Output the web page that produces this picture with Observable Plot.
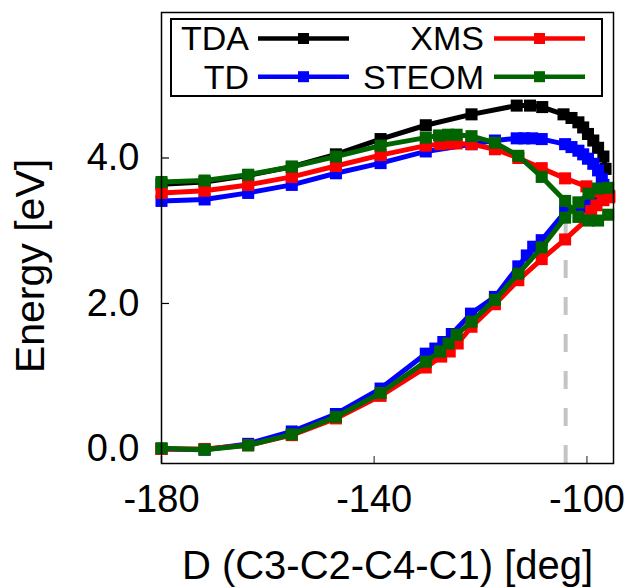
<!DOCTYPE html>
<html>
<head>
<meta charset="utf-8">
<script src="https://cdn.jsdelivr.net/npm/d3@7"></script>
<script src="https://cdn.jsdelivr.net/npm/@observablehq/plot@0.6"></script>
<style>
  body { margin: 0; background: #ffffff; }
  #wrap { position: relative; width: 627px; height: 587px; }
  #legend { position: absolute; left: 0; top: 0; pointer-events: none; }
</style>
</head>
<body>
<div id="wrap"></div>
<script>
// ---------- data ----------
const seriesNames  = ["TDA", "TD", "XMS", "STEOM"];
const seriesColors = ["#000000", "#0000ff", "#ff0000", "#006400"];

// TDA (black) – only the upper state is visible
const tdaUpperX = [-180, -171.9, -163.7, -155.5, -147.2, -138.8, -130.3, -121.7, -113.2, -110.7, -108.4, -104.4, -102.9, -101.6, -100.7, -99.8, -98.8, -97.9, -96.9, -96.5];
const tdaUpperY = [3.64, 3.67, 3.76, 3.88, 4.05, 4.26, 4.45, 4.60, 4.72, 4.72, 4.70, 4.60, 4.55, 4.49, 4.42, 4.33, 4.24, 4.14, 4.02, 3.85];

// TD (blue)
const tdUpperX = [-180, -171.9, -163.7, -155.5, -147.2, -138.8, -130.3, -121.7, -117.3, -113.2, -111.8, -110.3, -108.5, -104.1, -102.9, -101.6, -100.7, -99.8, -98.8, -97.9, -97.2, -96.9];
const tdUpperY = [3.41, 3.43, 3.52, 3.63, 3.79, 3.93, 4.09, 4.19, 4.24, 4.27, 4.27, 4.27, 4.26, 4.19, 4.15, 4.10, 4.05, 3.99, 3.92, 3.83, 3.71, 3.63];
const tdLowerX = [-180, -171.9, -163.7, -155.5, -147.2, -138.8, -130.3, -128.5, -127.0, -125.4, -121.8, -117.3, -112.9, -111.3, -110.1, -108.5, -104.1, -101.3, -99.4, -98.2, -97.2];
const tdLowerY = [0.00, -0.01, 0.07, 0.24, 0.48, 0.83, 1.31, 1.38, 1.47, 1.58, 1.86, 2.09, 2.51, 2.66, 2.78, 2.87, 3.26, 3.32, 3.42, 3.49, 3.55];

// XMS (red)
const xmsUpperX = [-180, -171.9, -163.7, -155.5, -147.2, -138.8, -130.3, -127.6, -126.0, -124.5, -121.7, -117.3, -112.9, -108.5, -104.1, -100.1, -98.5, -97.0, -95.8];
const xmsUpperY = [3.52, 3.55, 3.63, 3.74, 3.89, 4.04, 4.17, 4.19, 4.20, 4.20, 4.19, 4.12, 4.00, 3.86, 3.72, 3.61, 3.54, 3.50, 3.48];
const xmsLowerX = [-180, -171.9, -163.7, -155.5, -147.2, -138.8, -130.3, -127.4, -125.8, -124.3, -121.7, -117.3, -112.9, -108.5, -104.1, -100.1, -99.2, -98.2, -96.9, -95.8];
const xmsLowerY = [0.00, 0.00, 0.05, 0.19, 0.42, 0.73, 1.12, 1.27, 1.34, 1.45, 1.68, 1.99, 2.32, 2.61, 2.88, 3.15, 3.27, 3.35, 3.42, 3.46];

// STEOM (green) – the two states cross near -103
const steomUpperX = [-180, -171.9, -163.7, -155.5, -147.2, -138.8, -130.3, -127.8, -126.1, -124.5, -121.7, -117.3, -112.9, -108.5, -104.1, -101.6, -99.7, -97.9, -96.0];
const steomUpperY = [3.67, 3.69, 3.77, 3.88, 4.02, 4.17, 4.28, 4.31, 4.32, 4.32, 4.30, 4.21, 4.03, 3.74, 3.41, 3.19, 3.14, 3.14, 3.22];
const steomLowerX = [-180, -171.9, -163.7, -155.5, -147.2, -138.8, -130.3, -127.6, -126.0, -124.5, -121.7, -117.3, -112.9, -108.5, -104.1, -101.6, -99.7, -97.9, -96.0];
const steomLowerY = [0.01, -0.01, 0.05, 0.20, 0.44, 0.77, 1.20, 1.34, 1.45, 1.57, 1.75, 2.05, 2.41, 2.77, 3.18, 3.39, 3.51, 3.58, 3.59];

const xTicks = [-180, -140, -100];
const yTicks = [0, 2, 4];
const xDomain = [-180, -95];
const yDomain = [-0.2, 6.0];
const crossingX = -104;
const crossingYRange = [-0.2, 3.2];
const xLabel = "D (C3-C2-C4-C1) [deg]";
const yLabel = "Energy [eV]";

// ---------- build table ----------
const branches = [
  {series: "TDA",   branch: "upper", xs: tdaUpperX,   ys: tdaUpperY},
  {series: "TD",    branch: "upper", xs: tdUpperX,    ys: tdUpperY},
  {series: "TD",    branch: "lower", xs: tdLowerX,    ys: tdLowerY},
  {series: "XMS",   branch: "upper", xs: xmsUpperX,   ys: xmsUpperY},
  {series: "XMS",   branch: "lower", xs: xmsLowerX,   ys: xmsLowerY},
  {series: "STEOM", branch: "upper", xs: steomUpperX, ys: steomUpperY},
  {series: "STEOM", branch: "lower", xs: steomLowerX, ys: steomLowerY}
];
const rows = [];
for (const b of branches) {
  b.xs.forEach((x, i) => rows.push({series: b.series, key: b.series + "-" + b.branch, x, y: b.ys[i]}));
}

// ---------- layout ----------
const W = 627, H = 587;
const mL = 161, mR = 14, mT = 12, mB = 124;
const frameW = W - mL - mR, frameH = H - mT - mB;
const font = "'Liberation Sans', Arial, Helvetica, sans-serif";

const marks = [];
// dashed vertical line
marks.push(Plot.ruleX([crossingX], {x: d => d, y1: crossingYRange[0], y2: crossingYRange[1],
  stroke: "#c4c4c4", strokeWidth: 4, strokeDasharray: "18,19"}));
// inward ticks
marks.push(Plot.tickY(yTicks, {y: d => d, stroke: "#000", strokeWidth: 1.2, insetRight: frameW - 8}));
marks.push(Plot.tickX(xTicks, {x: d => d, stroke: "#666", strokeWidth: 1.5, insetTop: frameH - 7}));
// series
seriesNames.forEach((name, si) => {
  const col = seriesColors[si];
  const d = rows.filter(r => r.series === name);
  marks.push(Plot.line(d, {x: "x", y: "y", z: "key", stroke: col, strokeWidth: 5, strokeLinejoin: "round"}));
  marks.push(Plot.dot(d, {x: "x", y: "y", symbol: "square", r: 6.8, fill: col, stroke: "none"}));
});
// axes
marks.push(Plot.axisX(xTicks, {tickSize: 0, tickPadding: 22, fontSize: 38, label: null, tickFormat: d => String(d)}));
marks.push(Plot.axisY(yTicks, {tickSize: 0, tickPadding: 22, fontSize: 38, label: null, tickFormat: d => d.toFixed(1)}));
// axis labels
marks.push(Plot.text([xLabel], {text: d => d, frameAnchor: "bottom", textAnchor: "middle", lineAnchor: "bottom", dy: 115, fontSize: 40, fill: "#000"}));
marks.push(Plot.text([yLabel], {text: d => d, frameAnchor: "left", textAnchor: "middle", rotate: -90, dx: -131, dy: 28, fontSize: 41, fill: "#000"}));
// frame
marks.push(Plot.frame({stroke: "#000", strokeWidth: 1.5}));

const chart = Plot.plot({
  width: W, height: H,
  marginLeft: mL, marginRight: mR, marginTop: mT, marginBottom: mB,
  x: {domain: xDomain, axis: null},
  y: {domain: yDomain, axis: null},
  style: {fontFamily: font, background: "#fff", color: "#000", overflow: "visible"},
  marks
});
document.getElementById("wrap").appendChild(chart);

// ---------- legend ----------
const legendLayout = {
  box: {x: 171, y: 19, w: 431, h: 77},
  cols: [{textRight: 249, x1: 258, x2: 349}, {textRight: 484, x1: 494, x2: 585}],
  rows: [38.5, 76.7]
};
const legendPos = {TDA: [0, 0], XMS: [1, 0], TD: [0, 1], STEOM: [1, 1]};
const svg = d3.select("#wrap").append("svg").attr("id", "legend").attr("width", W).attr("height", H);
const bx = legendLayout.box;
svg.append("rect").attr("x", bx.x).attr("y", bx.y).attr("width", bx.w).attr("height", bx.h)
  .attr("fill", "#fff").attr("stroke", "#000").attr("stroke-width", 2);
seriesNames.forEach((name, si) => {
  const [c, r] = legendPos[name];
  const col = legendLayout.cols[c], cy = legendLayout.rows[r];
  svg.append("text").attr("x", col.textRight).attr("y", cy + 11.8)
    .attr("text-anchor", "end").attr("font-family", font).attr("font-size", 34).attr("fill", "#000").text(name);
  svg.append("line").attr("x1", col.x1).attr("x2", col.x2).attr("y1", cy).attr("y2", cy)
    .attr("stroke", seriesColors[si]).attr("stroke-width", 4.5);
  const s = 11;
  svg.append("rect").attr("x", (col.x1 + col.x2) / 2 - s / 2).attr("y", cy - s / 2).attr("width", s).attr("height", s)
    .attr("fill", seriesColors[si]);
});
</script>
</body>
</html>
